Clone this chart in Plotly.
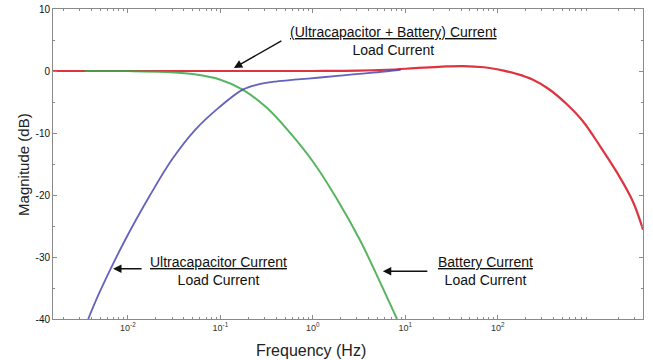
import plotly.graph_objects as go

# ---- data (frequency in Hz, magnitude in dB) ----
red_freq = [0.00155, 0.01, 0.1, 1.0, 3.16, 6.3, 12.6, 25.0, 42.0, 71.0, 112.0, 158.0,
            240.0, 355.0, 562.0, 832.0, 1260.0, 1950.0, 2880.0, 3720.0]
red_db = [0.0, 0.0, 0.0, 0.0, 0.05, 0.2, 0.45, 0.7, 0.8, 0.6, 0.1, -0.45,
          -1.4, -2.9, -5.4, -8.1, -12.0, -16.4, -21.0, -25.6]

green_freq = [0.0034, 0.01, 0.025, 0.05, 0.1, 0.174, 0.316, 0.562, 1.0, 1.78, 3.24, 5.01, 8.13]
green_db = [0.0, -0.02, -0.15, -0.5, -1.4, -3.0, -5.9, -9.9, -14.6, -20.4, -27.3, -33.2, -40.0]

blue_freq = [0.00372, 0.005, 0.0093, 0.0174, 0.0302, 0.0537, 0.0955, 0.174, 0.251,
             0.398, 0.631, 1.2, 2.0, 3.16, 5.0, 8.9]
blue_db = [-40.0, -35.5, -27.3, -20.0, -14.2, -9.45, -5.95, -3.0, -2.2,
           -1.7, -1.4, -1.05, -0.75, -0.45, -0.2, 0.2]

x_tick_vals = [0.01, 0.1, 1, 10, 100]
x_tick_text = ["10<sup>-2</sup>", "10<sup>-1</sup>", "10<sup>0</sup>", "10<sup>1</sup>", "10<sup>2</sup>"]
y_tick_vals = [-40, -30, -20, -10, 0, 10]
y_tick_text = ["-40", "-30", "-20", "-10", "0", "10"]

minor_vals = [m * 10.0 ** k for k in range(-3, 4) for m in range(2, 10)]

RED = "rgb(222,52,64)"
GREEN = "rgb(60,168,72)"
BLUE = "rgb(72,72,178)"
AX = "#8a8a8a"

fig = go.Figure()
fig.add_trace(go.Scatter(x=red_freq, y=red_db, mode="lines",
                         line=dict(color=RED, width=2.2, shape="spline"), showlegend=False))
fig.add_trace(go.Scatter(x=green_freq, y=green_db, mode="lines",
                         line=dict(color=GREEN, width=2, shape="spline"), opacity=0.85, showlegend=False))
fig.add_trace(go.Scatter(x=blue_freq, y=blue_db, mode="lines",
                         line=dict(color=BLUE, width=1.8, shape="spline"), opacity=0.85, showlegend=False))

axis_common = dict(showline=True, linecolor=AX, linewidth=1, mirror="ticks",
                   ticks="inside", tickcolor=AX, ticklen=4, showgrid=False, zeroline=False,
                   automargin=False)

fig.update_layout(
    xaxis=dict(type="log", range=[-2.81, 3.57], tickvals=x_tick_vals, ticktext=x_tick_text,
               tickfont=dict(size=9, color="#333"),
               minor=dict(ticks="inside", ticklen=2, tickcolor=AX, tickvals=minor_vals),
               **axis_common),
    yaxis=dict(range=[-40, 10], tickvals=y_tick_vals, ticktext=y_tick_text,
               tickfont=dict(size=10, color="#111"),
               minor=dict(ticks="inside", ticklen=2, tickcolor=AX, dtick=5),
               **axis_common),
    # overlay axes only to repeat the minor ticks on the top and right edges
    xaxis2=dict(type="log", range=[-2.81, 3.57], overlaying="x", side="top", anchor="y",
                ticks="inside", ticklen=4, tickcolor=AX, tickvals=x_tick_vals, showticklabels=False,
                minor=dict(ticks="inside", ticklen=2, tickcolor=AX, tickvals=minor_vals),
                showgrid=False, zeroline=False, showline=False, automargin=False),
    yaxis2=dict(range=[-40, 10], overlaying="y", side="right", anchor="x",
                ticks="inside", ticklen=4, tickcolor=AX, tickvals=y_tick_vals, showticklabels=False,
                minor=dict(ticks="inside", ticklen=2, tickcolor=AX, dtick=5),
                showgrid=False, zeroline=False, showline=False, automargin=False),
)

tfont = dict(family="Liberation Sans, Arial", size=14, color="#111")
annos = [
    dict(x=0.876, y=4.84, text="<u>(Ultracapacitor + Battery) Current</u><br>Load Current"),
    dict(x=-1.016, y=-32.3, text="<u>Ultracapacitor Current</u><br>Load Current"),
    dict(x=1.87, y=-32.3, text="<u>Battery Current</u><br>Load Current"),
]
for a in annos:
    fig.add_annotation(xref="x", yref="y", showarrow=False, font=tfont, align="center", **a)

arrows = [
    dict(x=-0.854, y=0.48, ax=49, ay=-28),
    dict(x=-2.16, y=-31.9, ax=30, ay=0),
    dict(x=0.757, y=-32.3, ax=46, ay=0),
]
for a in arrows:
    fig.add_annotation(xref="x", yref="y", text="", showarrow=True, arrowhead=2,
                       arrowsize=1.2, arrowwidth=1.4, arrowcolor="#111", **a)

# axis titles
fig.add_annotation(xref="paper", yref="paper", x=0.437, y=-0.1, yanchor="middle", showarrow=False,
                   text="Frequency (Hz)", font=dict(family="Liberation Sans, Arial", size=16, color="#222"))
fig.add_annotation(xref="paper", yref="paper", x=-0.051, y=0.5, textangle=-90, showarrow=False,
                   xanchor="center", yanchor="middle",
                   text="Magnitude (dB)", font=dict(family="Liberation Sans, Arial", size=15, color="#222"))

fig.update_layout(width=653, height=360, margin=dict(l=53, r=10, t=9, b=41),
                  plot_bgcolor="white", paper_bgcolor="white",
                  font=dict(family="Liberation Sans, Arial", color="#111"))

fig.write_html("out.html", config={"displayModeBar": False},
               post_script="document.body.style.margin='0';")
